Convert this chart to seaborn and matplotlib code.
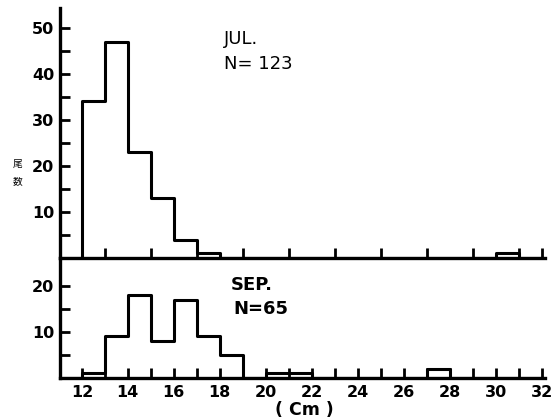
import matplotlib
matplotlib.use("Agg")
import matplotlib.pyplot as plt
import numpy as np
import pandas as pd
import seaborn as sns

# Data: 1-cm length classes (left edge, cm) and counts per class
# (empty classes at 11 and 32 close the outline at the ends)
bin_edges = list(range(11, 34))
bin_left = list(range(11, 33))
jul_counts = [0, 34, 47, 23, 13, 4, 1, 0, 0, 0, 0, 0, 0, 0, 0, 0, 0, 0, 0, 1, 0, 0]
sep_counts = [0, 1, 9, 18, 8, 17, 9, 5, 0, 1, 1, 0, 0, 0, 0, 0, 2, 0, 0, 0, 0, 0]
x_ticklabels = ["12", "14", "16", "18", "20", "22", "24", "26", "28", "30", "32"]
jul_yticklabels = ["10", "20", "30", "40", "50"]
sep_yticklabels = ["10", "20"]

sns.set_style("ticks")
plt.rcParams["font.family"] = ["DejaVu Sans", "Noto Sans CJK JP"]
for k in ("text.color", "axes.labelcolor", "xtick.color", "ytick.color", "axes.edgecolor"):
    plt.rcParams[k] = "black"

W, H = 557, 420
fig = plt.figure(figsize=(W / 100, H / 100), dpi=100)

def frac(x0, y0, x1, y1):
    return [x0 / W, 1 - y1 / H, (x1 - x0) / W, (y1 - y0) / H]

ax1 = fig.add_axes(frac(60, 8, 545, 258))
ax2 = fig.add_axes(frac(60, 258, 545, 378))

df_jul = pd.DataFrame({"len": [b + 0.5 for b in bin_left], "n": jul_counts})
df_sep = pd.DataFrame({"len": [b + 0.5 for b in bin_left], "n": sep_counts})

for ax, df in ((ax1, df_jul), (ax2, df_sep)):
    sns.histplot(data=df, x="len", weights="n", bins=bin_edges, element="step",
                 fill=False, color="black", linewidth=2.2, ax=ax)
    ax.set_xlim(11.05, 32.15)
    ax.set_xlabel("")
    ax.set_ylabel("")
    for s in ("top", "right"):
        ax.spines[s].set_visible(False)
    for s in ("left", "bottom"):
        ax.spines[s].set_linewidth(2.4)
        ax.spines[s].set_color("black")
    ax.tick_params(direction="in", length=7, width=2, colors="black")
    ax.patch.set_alpha(0)

tick_font = dict(fontsize=11.5, fontweight="bold", color="black")

# top panel
ax1.set_ylim(0, 54.3)
ax1.set_yticks(list(range(5, 55, 5)))
ax1.set_yticklabels(["" if v % 10 else str(v) for v in range(5, 55, 5)], **tick_font)
ax1.set_xticks(list(range(13, 32, 2)) + [32])
ax1.set_xticklabels([])
ax1.tick_params(axis="y", pad=4)

# bottom panel
ax2.set_ylim(0, 26)
ax2.set_yticks([5, 10, 15, 20])
ax2.set_yticklabels(["", sep_yticklabels[0], "", sep_yticklabels[1]], **tick_font)
ax2.set_xticks(list(range(12, 33)))
ax2.set_xticklabels([str(v) if v % 2 == 0 else "" for v in range(12, 33)], **tick_font)
ax2.tick_params(axis="x", pad=5)
ax2.tick_params(axis="y", pad=4)

def px(x, y):
    return x / W, 1 - y / H

fig.text(*px(224, 39), "JUL.", fontsize=13, color="black", va="center", ha="left")
fig.text(*px(224, 64), "N= 123", fontsize=13, color="black", va="center", ha="left")
fig.text(*px(231, 285), "SEP.", fontsize=13, fontweight="bold", color="black",
         va="center", ha="left")
fig.text(*px(233, 309), "N=65", fontsize=13, fontweight="bold", color="black",
         va="center", ha="left")
fig.text(*px(304, 410), "( Cm )", fontsize=12.5, fontweight="bold", color="black",
         va="center", ha="center")
fig.text(*px(18, 164), "尾", fontsize=7, color="black", va="center", ha="center",
         family=["Noto Sans CJK JP", "DejaVu Sans"])
fig.text(*px(18, 181), "数", fontsize=7, color="black", va="center", ha="center",
         family=["Noto Sans CJK JP", "DejaVu Sans"])

fig.savefig("out.png", dpi=100, facecolor="white")
